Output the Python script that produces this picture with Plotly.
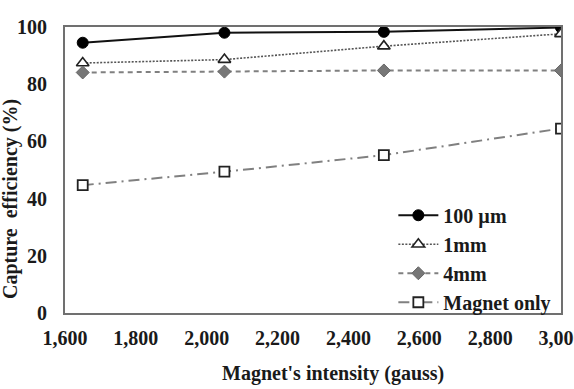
import plotly.graph_objects as go

intensity = [1650, 2050, 2500, 3000]
eff_100um = [94.5, 98.0, 98.3, 99.8]
eff_1mm = [87.4, 88.6, 93.3, 97.6]
eff_4mm = [84.1, 84.4, 84.8, 84.8]
eff_magnet = [44.7, 49.4, 55.2, 64.5]

series_names = ["100 \u00b5m", "1mm", "4mm", "Magnet only"]
x_ticks = [1600, 1800, 2000, 2200, 2400, 2600, 2800, 3000]
y_ticks = [0, 20, 40, 60, 80, 100]

FONT = "Times New Roman"
fig = go.Figure()

fig.add_trace(go.Scatter(
    x=intensity, y=eff_100um, name=series_names[0], mode="lines+markers",
    line=dict(color="#111111", width=2, dash="solid"),
    marker=dict(symbol="circle", size=11, color="#000000", line=dict(color="#000000", width=1)),
))
fig.add_trace(go.Scatter(
    x=intensity, y=eff_1mm, name=series_names[1], mode="lines+markers",
    line=dict(color="#555555", width=1.6, dash="2px,1.5px"),
    marker=dict(symbol="triangle-up", size=11, color="#ffffff", line=dict(color="#222222", width=1.6)),
))
fig.add_trace(go.Scatter(
    x=intensity, y=eff_4mm, name=series_names[2], mode="lines+markers",
    line=dict(color="#808080", width=2, dash="5px,4px"),
    marker=dict(symbol="diamond", size=10, color="#777777", line=dict(color="#666666", width=1)),
))
fig.add_trace(go.Scatter(
    x=intensity, y=eff_magnet, name=series_names[3], mode="lines+markers",
    line=dict(color="#808080", width=2, dash="11px,5px,2px,5px"),
    marker=dict(symbol="square", size=10, color="#ffffff", line=dict(color="#222222", width=1.8)),
))

axis_font = dict(family=FONT, size=20, color="#1a1a1a", weight="bold")

fig.update_layout(
    width=574, height=389,
    margin=dict(l=65, r=13, t=27, b=76, pad=0, autoexpand=False),
    paper_bgcolor="white", plot_bgcolor="white",
    showlegend=True,
    legend=dict(
        x=0.662, y=0.41, xanchor="left", yanchor="top",
        font=dict(family=FONT, size=20, color="#1a1a1a", weight="bold"),
        bgcolor="rgba(255,255,255,0)", borderwidth=0,
        tracegroupgap=0, itemwidth=40,
    ),
    xaxis=dict(
        range=[1600, 3000], tickvals=x_ticks, tickformat=",",
        showgrid=False, zeroline=False, automargin=False,
        showline=True, linecolor="#707070", linewidth=2, mirror=True,
        ticks="", tickfont=axis_font, ticklabelstandoff=6,
        ticklabeloverflow="allow",
    ),
    yaxis=dict(
        range=[0, 100], tickvals=y_ticks, automargin=False,
        showgrid=False, zeroline=False,
        showline=True, linecolor="#707070", linewidth=2, mirror=True,
        ticks="", tickfont=axis_font, ticklabelstandoff=12,
    ),
    annotations=[
        dict(text="Magnet's intensity (gauss)", xref="paper", yref="paper",
             x=0.54, y=-0.21, xanchor="center", yanchor="middle", showarrow=False,
             font=dict(family=FONT, size=20, color="#1a1a1a", weight="bold")),
        dict(text="Capture  efficiency (%)", xref="paper", yref="paper",
             x=-0.11, y=0.40, xanchor="center", yanchor="middle", showarrow=False,
             textangle=-90,
             font=dict(family=FONT, size=20, color="#1a1a1a", weight="bold")),
    ],
)

fig.write_html("out.html")
